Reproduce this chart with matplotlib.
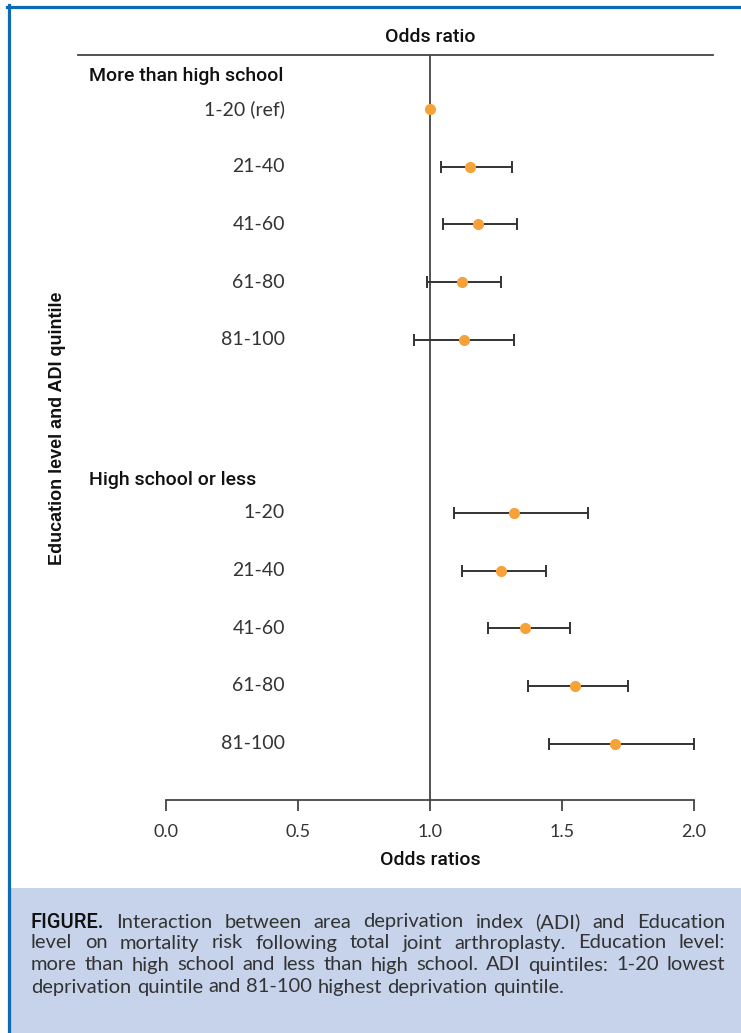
import numpy as np
import matplotlib
matplotlib.use("Agg")
import matplotlib.pyplot as plt
from matplotlib.lines import Line2D
from matplotlib.patches import Rectangle

# odds ratios and 95% CI
groups = ["More than high school", "High school or less"]
mhs_labels = ["1-20 (ref)", "21-40", "41-60", "61-80", "81-100"]
mhs_or = [1.00, 1.15, 1.18, 1.12, 1.13]
mhs_lo = [1.00, 1.04, 1.05, 0.99, 0.94]
mhs_hi = [1.00, 1.31, 1.33, 1.27, 1.32]
hs_labels = ["1-20", "21-40", "41-60", "61-80", "81-100"]
hs_or = [1.32, 1.27, 1.36, 1.55, 1.70]
hs_lo = [1.09, 1.12, 1.22, 1.37, 1.45]
hs_hi = [1.60, 1.44, 1.53, 1.75, 2.00]
xticks = [0.0, 0.5, 1.0, 1.5, 2.0]

W, H = 741, 1033
fig = plt.figure(figsize=(W / 100, H / 100), dpi=100)

def fx(px):
    return px / W

def fy(py):
    return 1 - py / H

orange = "#f7a239"
dark = "#444444"
txt = "#333333"
num_font = dict(family=["Lato", "DejaVu Sans"], fontweight="normal")
head_font = dict(family=["Roboto", "DejaVu Sans"], fontweight="medium")

# frame and caption box
fig.patches.append(Rectangle((fx(9), 0), 1 - fx(9), fy(888), transform=fig.transFigure,
                             facecolor="#c6d3eb", edgecolor="none", zorder=0))
fig.lines.append(Line2D([fx(8.5), fx(8.5)], [0, fy(5)], transform=fig.transFigure,
                        color="#0d6ab4", lw=2.3))
fig.lines.append(Line2D([fx(7), 1], [fy(6.5), fy(6.5)], transform=fig.transFigure,
                        color="#0d6ab4", lw=2.3))

ax = fig.add_axes([fx(166), fy(800), fx(694) - fx(166), fy(55) - fy(800)])
ax.set_xlim(0, 2)
ax.set_ylim(11.976, -0.936)
for s in ["top", "right", "left"]:
    ax.spines[s].set_visible(False)
ax.spines["bottom"].set_color(dark)
ax.spines["bottom"].set_linewidth(1.3)
ax.set_yticks([])
ax.set_xticks(xticks)
ax.set_xticklabels([f"{t:.1f}" for t in xticks], fontsize=13, color=txt, **num_font)
ax.tick_params(axis="x", direction="out", length=8, width=1.3, color=dark, pad=9)
ax.axvline(1.0, color=dark, lw=1.3, zorder=1)

y_mhs = np.arange(5)
y_hs = np.arange(7, 12)

# reference point has no interval
ax.plot(mhs_or[0], y_mhs[0], "o", color=orange, ms=7, zorder=3)
for vals, lo, hi, ys in [(mhs_or[1:], mhs_lo[1:], mhs_hi[1:], y_mhs[1:]),
                         (hs_or, hs_lo, hs_hi, y_hs)]:
    vals = np.array(vals)
    err = [vals - np.array(lo), np.array(hi) - vals]
    ax.errorbar(vals, ys, xerr=err, fmt="o", color=orange, ms=7,
                ecolor="#333333", elinewidth=1.4, capsize=4, capthick=1.4, zorder=3)

lab_x = (285 - 166) / 264
head_x = (89 - 166) / 264
for labels, ys in [(mhs_labels, y_mhs), (hs_labels, y_hs)]:
    for lab, yy in zip(labels, ys):
        ax.text(lab_x, yy, lab, ha="right", va="center", fontsize=14, color=txt, **num_font)
ax.text(head_x, y_mhs[0] - 0.57, groups[0], ha="left", va="center", fontsize=14,
        color="#111111", **head_font)
ax.text(head_x, y_hs[0] - 0.57, groups[1], ha="left", va="center", fontsize=14,
        color="#111111", **head_font)

# header line and titles
fig.lines.append(Line2D([fx(78), fx(713)], [fy(55), fy(55)], transform=fig.transFigure,
                        color=dark, lw=1.3))
fig.text(fx(430), fy(37), "Odds ratio", ha="center", va="center", fontsize=14,
         color="#111111", **head_font)
fig.text(fx(430), fy(860), "Odds ratios", ha="center", va="center", fontsize=14,
         color="#111111", **head_font)
fig.text(fx(57), fy(428), "Education level and ADI quintile", rotation=90, ha="center",
         va="center", fontsize=13, color="#111111", family=["Liberation Sans", "DejaVu Sans"],
         fontweight="bold")

# caption, justified
cap_lines = [
    "FIGURE. Interaction between area deprivation index (ADI) and Education",
    "level on mortality risk following total joint arthroplasty. Education level:",
    "more than high school and less than high school. ADI quintiles: 1-20 lowest",
    "deprivation quintile and 81-100 highest deprivation quintile.",
]
cap_y = [922, 943, 965, 987]
x0, x1 = 31, 725
r = fig.canvas.get_renderer()
for i, (line, yy) in enumerate(zip(cap_lines, cap_y)):
    words = line.split(" ")
    arts = []
    for j, w in enumerate(words):
        if i == 0 and j == 0:
            t = fig.text(0, fy(yy), w, fontsize=14.5, color="#111111", va="center",
                         **head_font)
        else:
            t = fig.text(0, fy(yy), w, fontsize=14.5, color=txt, va="center", **num_font)
        arts.append(t)
    widths = [a.get_window_extent(r).width for a in arts]
    if i < len(cap_lines) - 1:
        gap = (x1 - x0 - sum(widths)) / (len(words) - 1)
    else:
        gap = 5.5
    x = x0
    for a, w in zip(arts, widths):
        a.set_x(fx(x))
        x += w + gap

fig.savefig("out.png", dpi=100)
